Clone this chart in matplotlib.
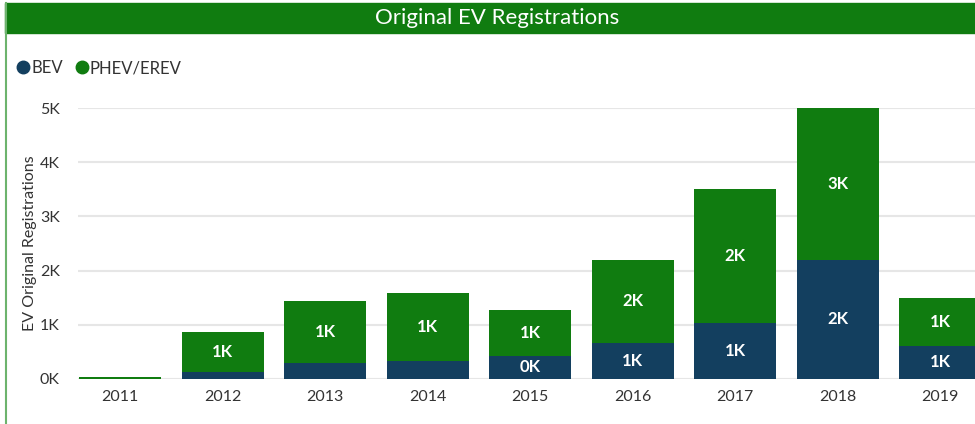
"""Original EV registrations — stacked bar chart (BEV vs PHEV/EREV)."""

import matplotlib

matplotlib.use("Agg")
import matplotlib.pyplot as plt
from matplotlib.lines import Line2D
from matplotlib.patches import Rectangle
from matplotlib.ticker import FuncFormatter

years = ["2011", "2012", "2013", "2014", "2015", "2016", "2017", "2018", "2019"]
bev = [0, 120, 300, 330, 430, 660, 1030, 2200, 610]
phev = [30, 750, 1130, 1250, 840, 1540, 2470, 2800, 890]

GREEN = "#107C10"
NAVY = "#133F5F"
FONT = ["Lato", "DejaVu Sans"]

plt.rcParams["font.family"] = FONT

fig = plt.figure(figsize=(9.75, 4.24), dpi=100)
fig.patch.set_facecolor("white")

# Title bar and left frame line
fig.add_artist(Rectangle((5 / 975, 1 - 33 / 424), 1, 30 / 424,
                         transform=fig.transFigure, color=GREEN, zorder=0))
fig.add_artist(Line2D([6 / 975, 6 / 975], [0, 1 - 3 / 424],
                      transform=fig.transFigure, color="#6DB36D", lw=1.5))
fig.text(497 / 975, 1 - 18 / 424, "Original EV Registrations", color="white",
         fontsize=16, ha="center", va="center")

ax = fig.add_axes([78 / 975, 45 / 424, 1 - 78 / 975, (379 - 108) / 424])
x = range(len(years))
ax.bar(x, bev, width=0.8, color=NAVY, zorder=3)
ax.bar(x, phev, width=0.8, bottom=bev, color=GREEN, zorder=3)


def k_label(v):
    return f"{round(v / 1000):.0f}K"


for i in x:
    if bev[i] >= 400:
        ax.text(i, bev[i] / 2, k_label(bev[i]), color="white", fontsize=12,
                fontweight="bold", ha="center", va="center", zorder=4)
    if phev[i] >= 400:
        ax.text(i, bev[i] + phev[i] / 2, k_label(phev[i]), color="white",
                fontsize=12, fontweight="bold", ha="center", va="center", zorder=4)

ax.set_xlim(-0.41, 8.34)
ax.set_ylim(0, 5000)
ax.set_yticks([0, 1000, 2000, 3000, 4000, 5000])
ax.yaxis.set_major_formatter(FuncFormatter(lambda v, _: f"{v / 1000:.0f}K"))
ax.set_xticks(list(x))
ax.set_xticklabels(years)
ax.grid(axis="y", color="#E6E6E6", lw=1.5, zorder=0)
ax.set_axisbelow(True)
for s in ax.spines.values():
    s.set_visible(False)
ax.tick_params(axis="both", length=0, labelsize=11.5, colors="#333333")
ax.tick_params(axis="y", pad=13)
ax.tick_params(axis="x", pad=8)
for b in ax.patches:
    b.set_clip_on(False)

fig.text(30 / 975, 1 - 243 / 424, "EV Original Registrations", rotation=90,
         fontsize=11.5, color="#333333", ha="center", va="center")

# Legend
handles = [
    Line2D([], [], marker="o", ls="", color=NAVY, markersize=9),
    Line2D([], [], marker="o", ls="", color=GREEN, markersize=9),
]
fig.legend(handles, ["BEV", "PHEV/EREV"], loc="center left",
           bbox_to_anchor=(5 / 975, 1 - 68 / 424), ncol=2, frameon=False,
           handletextpad=-0.1, columnspacing=0.5, fontsize=12,
           handlelength=1.2, borderpad=0, labelcolor="#333333")

fig.savefig("out.png", dpi=100)
